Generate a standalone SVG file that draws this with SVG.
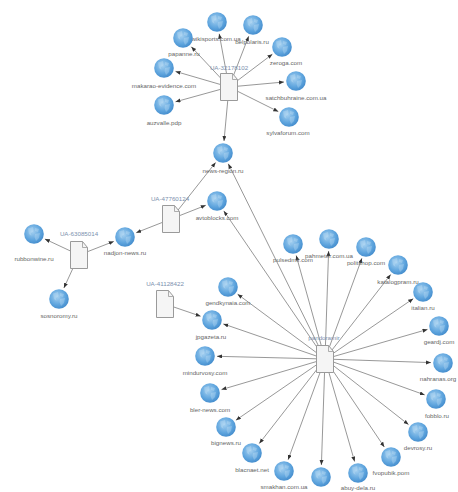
<svg xmlns="http://www.w3.org/2000/svg" width="458" height="492" viewBox="0 0 458 492">
<style>
text{font-family:"Liberation Sans",Arial,sans-serif;font-size:6.2px;fill:#666;text-anchor:middle}
text.ua{fill:#7c90ae}
#connectors line{stroke:#8c8c8c;stroke-width:.9;marker-end:url(#arrow)}
</style>
<defs>
<marker id="arrow" markerUnits="userSpaceOnUse" markerWidth="6" markerHeight="5" refX="5" refY="2" orient="auto"><path d="M0 0L5 2L0 4Z" fill="#333"/></marker>
<radialGradient id="gb" cx=".42" cy=".38" r=".7"><stop offset="0" stop-color="#a5d0f0"/><stop offset=".6" stop-color="#5fa5de"/><stop offset="1" stop-color="#3d86c8"/></radialGradient>
<g id="globe"><circle r="9.800" fill="url(#gb)"/><path d="M-6-5.500-1-7-.5-3-3-1-2.500 2-5 0ZM1-6 5-5 4-2 1-3ZM1 0 6-1 5 4 2 7 .5 3Z" fill="#c7e3f7" opacity=".35"/></g>
<g id="doc"><path d="M-8.500-13.500H3.500L8.500-7.500V13.500H-8.500Z" fill="#f5f5f5" stroke="#9a9a9a" stroke-width="1"/><path d="M3.500-13.500V-7.500H8.500" fill="none" stroke="#9a9a9a" stroke-width=".8"/></g>
</defs>
<rect width="458" height="492" fill="#fff"/>
<g id="connectors">
<line x1="229" y1="87" x2="219.200" y2="33.800"/><line x1="229" y1="87" x2="248.700" y2="36.200"/><line x1="229" y1="87" x2="191.300" y2="46.800"/><line x1="229" y1="87" x2="272.400" y2="54.200"/><line x1="229" y1="87" x2="175.500" y2="71.400"/><line x1="229" y1="87" x2="284" y2="82"/><line x1="229" y1="87" x2="175.500" y2="101.800"/><line x1="229" y1="87" x2="278.300" y2="111.600"/><line x1="229" y1="87" x2="224" y2="141"/>
<line x1="171" y1="219" x2="215.600" y2="162.500"/><line x1="171" y1="219" x2="205.800" y2="205.300"/><line x1="171" y1="219" x2="136.200" y2="232.700"/>
<line x1="79" y1="255" x2="113.800" y2="241.400"/><line x1="79" y1="255" x2="44.900" y2="239"/><line x1="79" y1="255" x2="63.900" y2="288"/>
<line x1="165" y1="304" x2="200.600" y2="316.200"/>
<line x1="325" y1="359" x2="228.300" y2="163.800"/><line x1="325" y1="359" x2="223.800" y2="210.900"/><line x1="325" y1="359" x2="237.600" y2="294.200"/><line x1="325" y1="359" x2="223.300" y2="323.900"/><line x1="325" y1="359" x2="296.200" y2="255.500"/><line x1="325" y1="359" x2="328.600" y2="251"/><line x1="325" y1="359" x2="361.900" y2="258.300"/><line x1="325" y1="359" x2="390.700" y2="274.500"/><line x1="325" y1="359" x2="413.200" y2="298.700"/><line x1="325" y1="359" x2="427.500" y2="329.400"/><line x1="325" y1="359" x2="431" y2="362.600"/><line x1="325" y1="359" x2="424.700" y2="394.900"/><line x1="325" y1="359" x2="408.500" y2="424.600"/><line x1="325" y1="359" x2="384.300" y2="447"/><line x1="325" y1="359" x2="354.600" y2="461.500"/><line x1="325" y1="359" x2="321.400" y2="465"/><line x1="325" y1="359" x2="288.100" y2="459.700"/><line x1="325" y1="359" x2="259.300" y2="443.500"/><line x1="325" y1="359" x2="235.900" y2="420.200"/><line x1="325" y1="359" x2="221.500" y2="389.600"/><line x1="325" y1="359" x2="217" y2="356.300"/>
</g>
<g id="d1"><use href="#doc" x="229" y="87"/><text class="ua" x="229" y="70">UA-32178102</text></g>
<g id="d2"><use href="#doc" x="171" y="219"/><text class="ua" x="170" y="201">UA-47760124</text></g>
<g id="d3"><use href="#doc" x="79" y="255"/><text class="ua" x="79" y="236">UA-63085014</text></g>
<g id="d4"><use href="#doc" x="165" y="304"/><text class="ua" x="165" y="286">UA-41128422</text></g>
<g id="d5"><use href="#doc" x="325" y="359"/><text class="ua" x="324" y="340">pandoramir</text></g>
<g id="n1"><use href="#globe" x="217" y="22"/><text x="216" y="41">wikisports.com.ua</text></g>
<g id="n2"><use href="#globe" x="253" y="25"/><text x="252" y="44">belpolaris.ru</text></g>
<g id="n3"><use href="#globe" x="183" y="38"/><text x="184" y="56">papanne.ru</text></g>
<g id="n4"><use href="#globe" x="282" y="47"/><text x="286" y="65">zeroga.com</text></g>
<g id="n5"><use href="#globe" x="164" y="68"/><text x="164" y="88">makarao-evidence.com</text></g>
<g id="n6"><use href="#globe" x="296" y="81"/><text x="296" y="100">satchbuhraine.com.ua</text></g>
<g id="n7"><use href="#globe" x="164" y="105"/><text x="164" y="125">auzvalle.pdp</text></g>
<g id="n8"><use href="#globe" x="289" y="117"/><text x="288" y="135">sylvaforum.com</text></g>
<g id="n9"><use href="#globe" x="223" y="153"/><text x="223" y="173">news-region.ru</text></g>
<g id="n10"><use href="#globe" x="217" y="201"/><text x="217" y="220">avtoblocks.com</text></g>
<g id="n11"><use href="#globe" x="125" y="237"/><text x="125" y="255">nadjon-news.ru</text></g>
<g id="n12"><use href="#globe" x="34" y="234"/><text x="34" y="261">rubbonwine.ru</text></g>
<g id="n13"><use href="#globe" x="59" y="299"/><text x="59" y="318">sosnoromy.ru</text></g>
<g id="n14"><use href="#globe" x="212" y="320"/><text x="211" y="339">jpgazeta.ru</text></g>
<g id="n15"><use href="#globe" x="228" y="287"/><text x="228" y="305">gendkynaia.com</text></g>
<g id="n16"><use href="#globe" x="293" y="244"/><text x="293" y="262">pulsedmir.com</text></g>
<g id="n17"><use href="#globe" x="329" y="239"/><text x="329" y="258">pahmeter.com.ua</text></g>
<g id="n18"><use href="#globe" x="366" y="247"/><text x="366" y="265">politshop.com</text></g>
<g id="n19"><use href="#globe" x="398" y="265"/><text x="398" y="284">katalogpram.ru</text></g>
<g id="n20"><use href="#globe" x="423" y="292"/><text x="423" y="310">italian.ru</text></g>
<g id="n21"><use href="#globe" x="439" y="326"/><text x="439" y="344">geardj.com</text></g>
<g id="n22"><use href="#globe" x="443" y="363"/><text x="438" y="381">nahranas.org</text></g>
<g id="n23"><use href="#globe" x="436" y="399"/><text x="437" y="418">fobblo.ru</text></g>
<g id="n24"><use href="#globe" x="418" y="432"/><text x="418" y="450">devrosy.ru</text></g>
<g id="n25"><use href="#globe" x="391" y="457"/><text x="391" y="475">fvopubik.pom</text></g>
<g id="n26"><use href="#globe" x="358" y="473"/><text x="358" y="490">abuy-dela.ru</text></g>
<g id="n27"><use href="#globe" x="321" y="477"/></g>
<g id="n28"><use href="#globe" x="284" y="471"/><text x="284" y="489">smakhan.com.ua</text></g>
<g id="n29"><use href="#globe" x="252" y="453"/><text x="252" y="472">blacnaet.net</text></g>
<g id="n30"><use href="#globe" x="226" y="427"/><text x="226" y="445">bignews.ru</text></g>
<g id="n31"><use href="#globe" x="210" y="393"/><text x="210" y="412">bler-news.com</text></g>
<g id="n32"><use href="#globe" x="205" y="356"/><text x="205" y="375">mindurvosy.com</text></g>
</svg>
